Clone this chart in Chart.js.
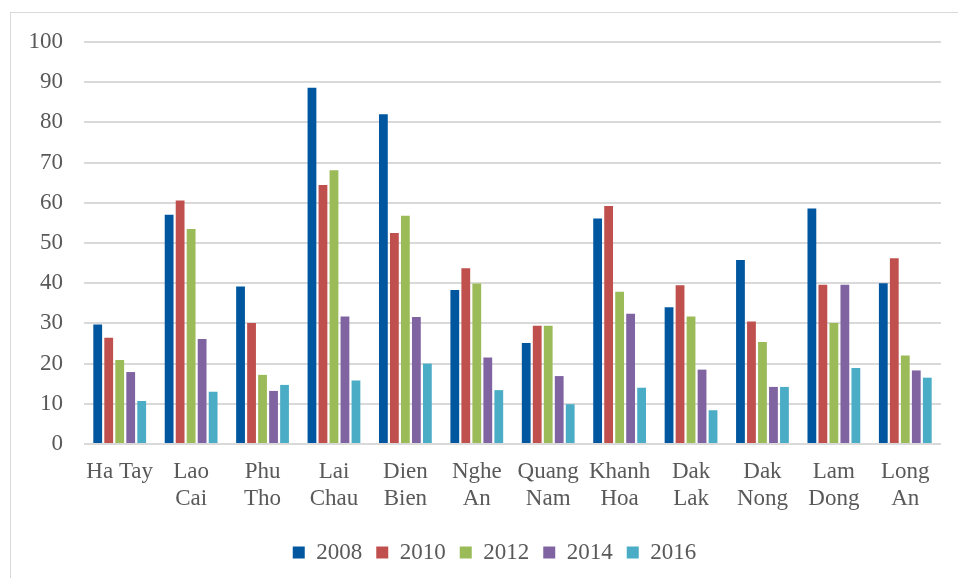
<!DOCTYPE html>
<html>
<head>
<meta charset="utf-8">
<script src="https://cdn.jsdelivr.net/npm/chart.js@4"></script>
<style>
  html, body { margin: 0; padding: 0; background: #fff; overflow: hidden; }
  #wrap { position: relative; width: 958px; height: 578px; }
  #frame { position: absolute; left: 10px; top: 12px; width: 960px; height: 580px; border: 1px solid #d9d9d9; box-sizing: border-box; }
  canvas { position: absolute; left: 0; top: 0; }
</style>
</head>
<body>
<div id="wrap">
  <div id="frame"></div>
  <canvas id="provChart" width="958" height="578"></canvas>
</div>
<script>
const provinces = ['Ha Tay', ['Lao', 'Cai'], ['Phu', 'Tho'], ['Lai', 'Chau'], ['Dien', 'Bien'], ['Nghe', 'An'],
    ['Quang', 'Nam'], ['Khanh', 'Hoa'], ['Dak', 'Lak'], ['Dak', 'Nong'], ['Lam', 'Dong'], ['Long', 'An']];
const years = ['2008', '2010', '2012', '2014', '2016'];
const v2008 = [29.7, 57.0, 39.2, 88.6, 82.0, 38.3, 25.1, 56.1, 34.0, 45.8, 58.6, 40.0];
const v2010 = [26.4, 60.6, 30.1, 64.4, 52.5, 43.7, 29.4, 59.2, 39.5, 30.5, 39.6, 46.2];
const v2012 = [20.9, 53.5, 17.2, 68.1, 56.8, 39.9, 29.4, 37.9, 31.7, 25.4, 30.1, 22.0];
const v2014 = [17.9, 26.1, 13.2, 31.7, 31.6, 21.5, 16.9, 32.4, 18.5, 14.2, 39.6, 18.3];
const v2016 = [10.7, 13.0, 14.7, 15.8, 20.0, 13.4, 9.9, 14.0, 8.4, 14.2, 18.9, 16.5];
const yTicks = [0, 10, 20, 30, 40, 50, 60, 70, 80, 90, 100];

document.addEventListener('DOMContentLoaded', () => {
    const ctx = document.getElementById('provChart');
    const colors = ['#0057A0', '#C0504D', '#9BBB59', '#8064A2', '#4BACC6'];
    const series = [v2008, v2010, v2012, v2014, v2016];
    const font = { family: "'Liberation Serif', 'Times New Roman', serif", size: 23 };

    const data = {
        labels: provinces,
        datasets: years.map((y, i) => ({
            label: y,
            data: series[i],
            backgroundColor: colors[i],
            categoryPercentage: 0.77,
            barPercentage: 0.8
        }))
    };

    // nudge the legend a bit to the right, like the original
    const shiftLegend = {
        id: 'shiftLegend',
        afterLayout: chart => { chart.legend.left += 48; }
    };

    new Chart(ctx, {
        type: 'bar',
        data: data,
        plugins: [shiftLegend],
        options: {
            responsive: false,
            animation: false,
            layout: { padding: { top: 42, right: 17, left: 0, bottom: 4 } },
            scales: {
                x: {
                    grid: { display: false },
                    border: { display: false },
                    ticks: { color: '#595959', font: font, maxRotation: 0, autoSkip: false, padding: 6 },
                    afterFit: scale => { scale.height = 83; }
                },
                y: {
                    min: 0,
                    max: 100,
                    afterBuildTicks: scale => { scale.ticks = yTicks.map(v => ({ value: v })); },
                    grid: { color: '#d9d9d9', lineWidth: 2, drawTicks: false },
                    border: { display: false },
                    ticks: { color: '#595959', font: font, padding: 21 },
                    afterFit: scale => { scale.width = 84; }
                }
            },
            plugins: {
                legend: {
                    position: 'bottom',
                    labels: { color: '#595959', font: font, boxWidth: 12, boxHeight: 12, padding: 14 }
                },
                tooltip: { enabled: false }
            }
        }
    });
});
</script>
</body>
</html>
